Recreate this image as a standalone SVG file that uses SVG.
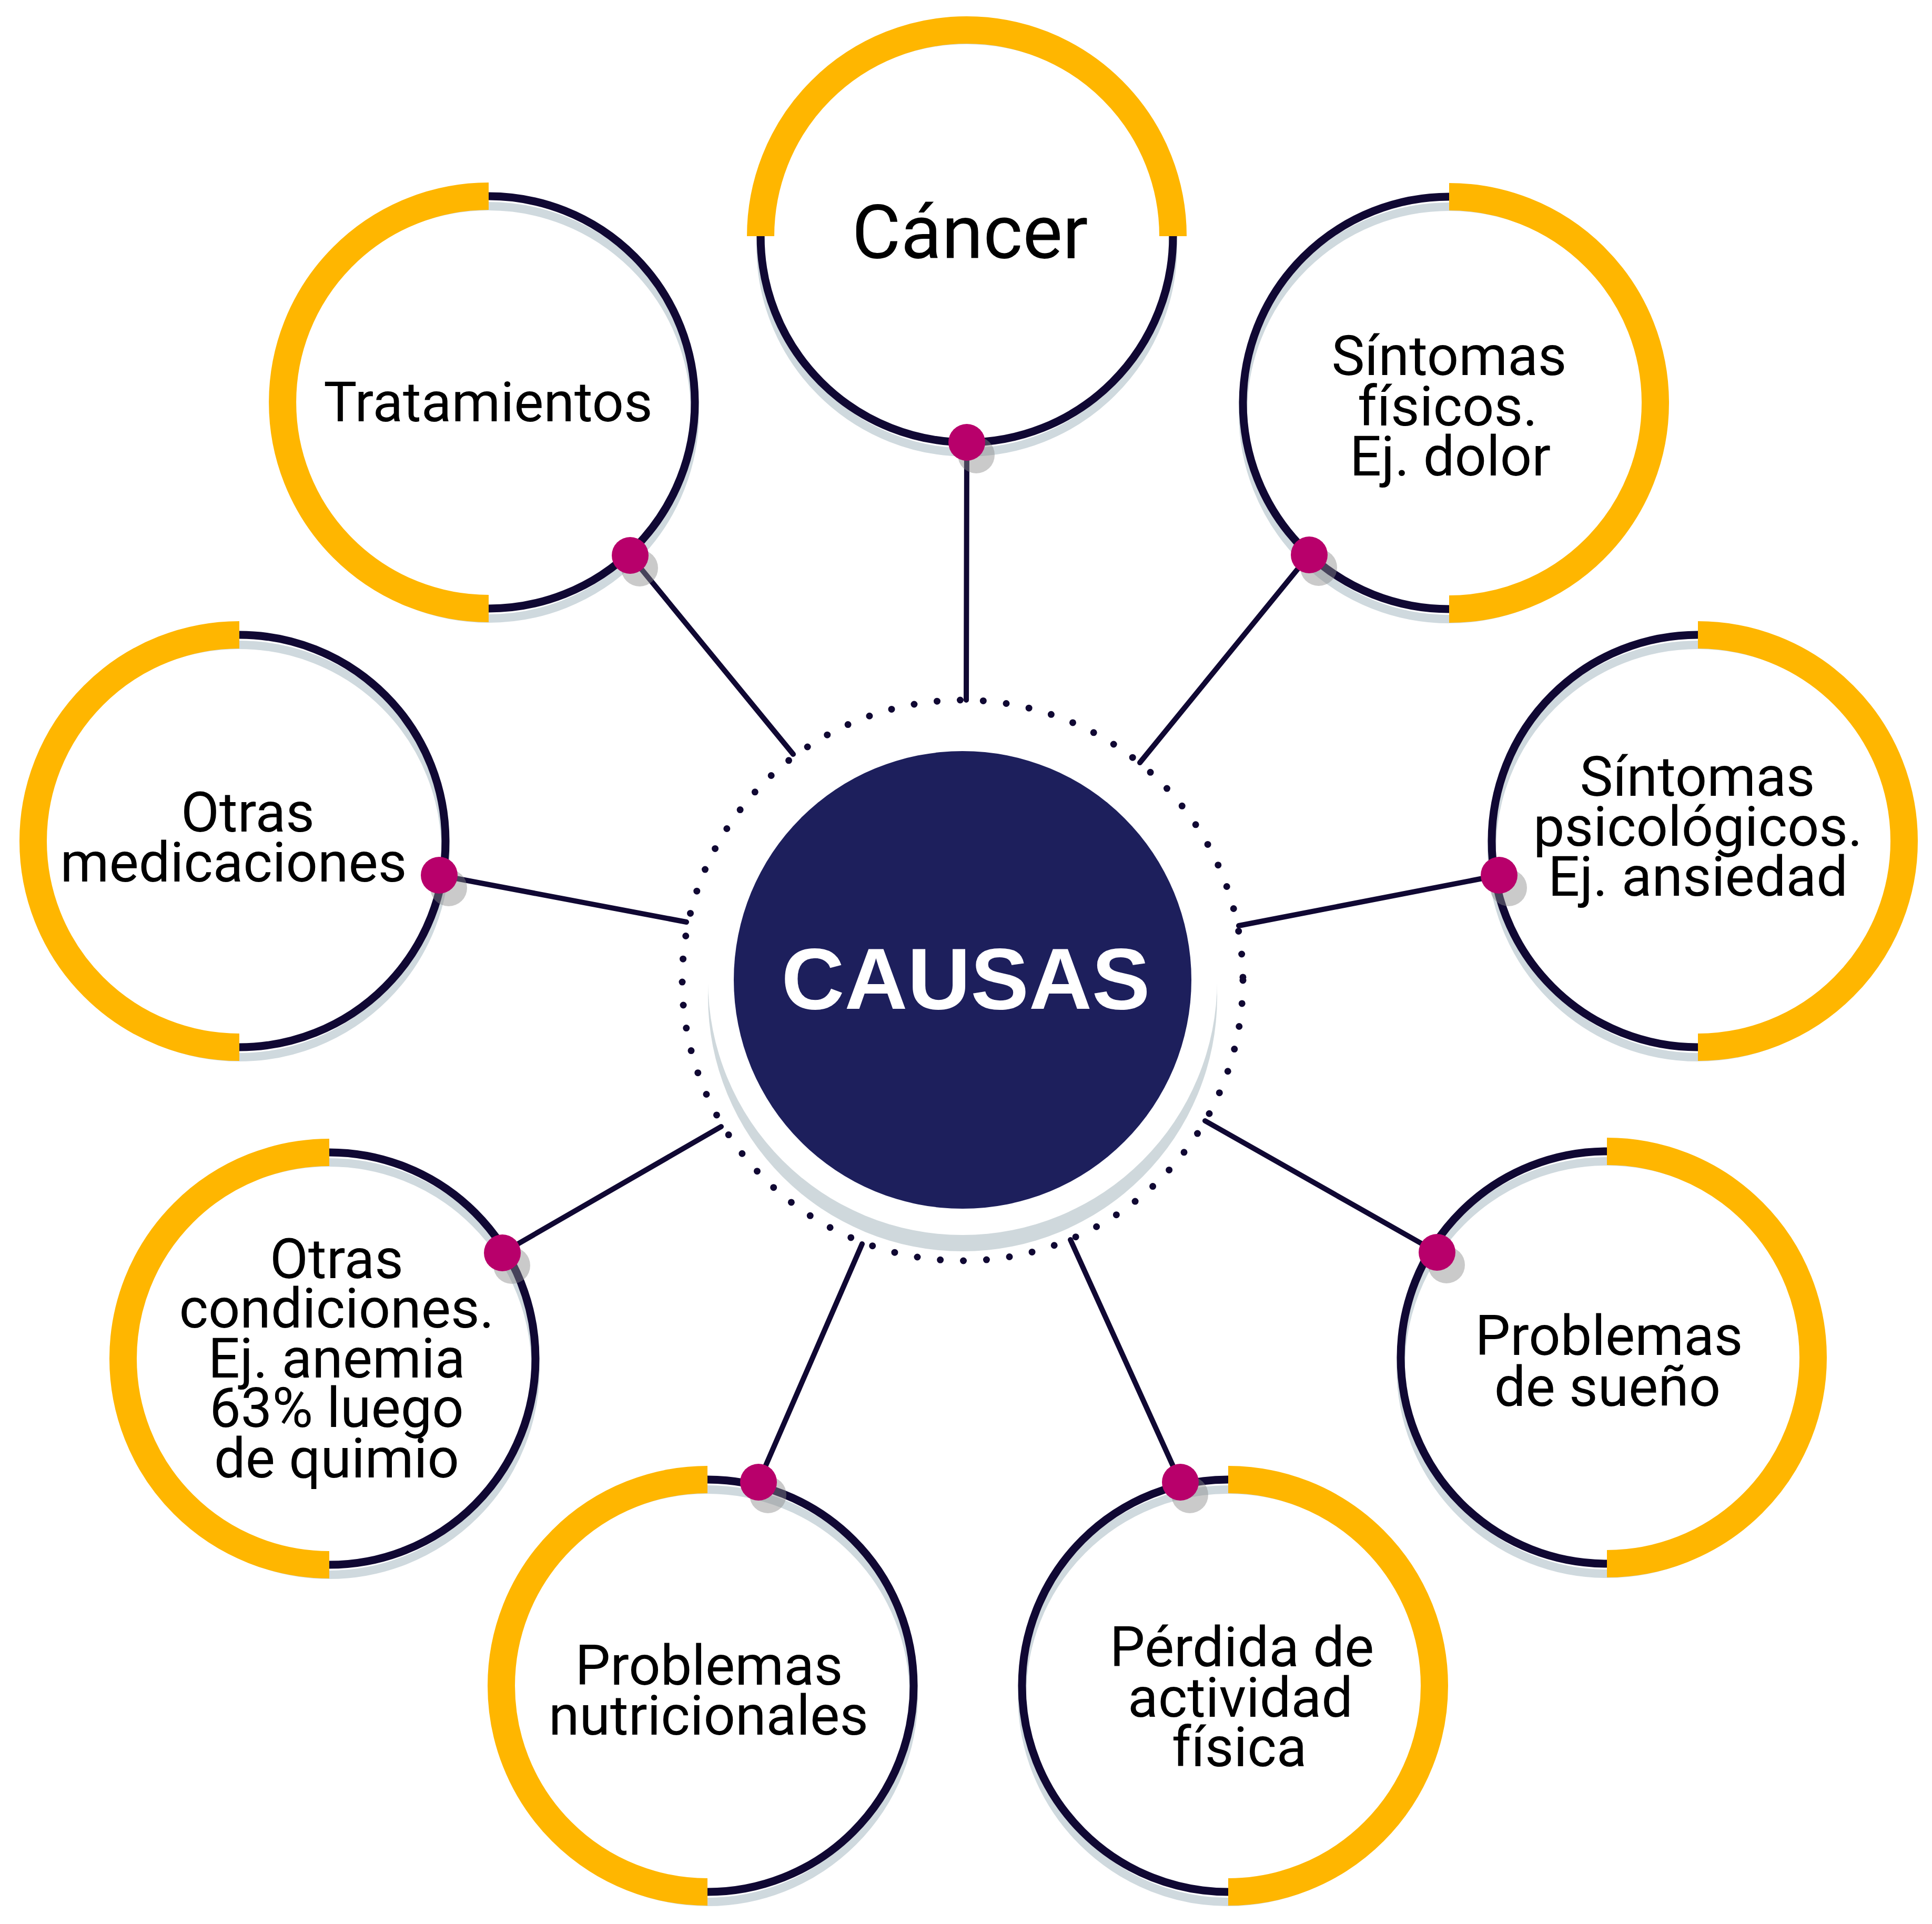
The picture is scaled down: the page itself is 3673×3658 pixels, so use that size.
<svg xmlns="http://www.w3.org/2000/svg" width="3673" height="3658" viewBox="0 0 3673 3658">
<style>
.ring{fill:none;stroke:#100833;stroke-width:15}
.shd{fill:none;stroke:#cfd9de;stroke-width:16}
.arc{fill:none;stroke:#FFB600;stroke-width:52}
.dot{fill:#B8006B}
.dsh{fill:#8a8a8a;fill-opacity:0.45}
.lbl{font-family:Roboto,"Liberation Sans",sans-serif;font-size:106px;fill:#000;text-anchor:middle}
#connectors line{stroke:#100833;stroke-width:10;stroke-linecap:round}
</style>
<rect width="3673" height="3658" fill="#fff"/>
<g id="center">
<circle cx="1830" cy="1895" r="484" fill="#cfd8dc"/>
<circle cx="1830" cy="1864" r="484" fill="#fff"/>
<circle cx="1830" cy="1864" r="533" fill="none" stroke="#100833" stroke-width="13" stroke-linecap="round" stroke-dasharray="0 43.98"/>
<circle cx="1830" cy="1863" r="435" fill="#1d1f5c"/>
<text x="1836" y="1918" font-family="'Liberation Sans',Arial,sans-serif" font-weight="bold" font-size="166" fill="#fff" text-anchor="middle">CAUSAS</text>
</g>
<g id="connectors">
<line x1="1838" y1="841" x2="1837" y2="1331"/>
<line x1="1198" y1="1056" x2="1508" y2="1434"/>
<line x1="2489" y1="1055" x2="2167" y2="1450"/>
<line x1="2850" y1="1664" x2="2355" y2="1760"/>
<line x1="835" y1="1664" x2="1305" y2="1753"/>
<line x1="955" y1="2382" x2="1371" y2="2142"/>
<line x1="2732" y1="2381" x2="2291" y2="2131"/>
<line x1="1442" y1="2818" x2="1639" y2="2365"/>
<line x1="2244" y1="2818" x2="2035" y2="2357"/>
</g>
<g id="node-cancer">
<circle class="shd" cx="1838" cy="468" r="392"/>
<circle class="ring" cx="1838" cy="449" r="392"/>
<path class="arc" d="M1446 449A392 392 0 0 1 2230 449"/>
<text class="lbl" x="1844" y="491" style="font-size:143px">Cáncer</text>
<circle class="dsh" cx="1856" cy="865" r="35"/>
<circle class="dot" cx="1838" cy="841" r="35"/>
</g>
<g id="node-tratamientos">
<circle class="shd" cx="929" cy="784" r="392"/>
<circle class="ring" cx="929" cy="765" r="392"/>
<path class="arc" d="M929 1157A392 392 0 0 1 929 373"/>
<text class="lbl" x="928" y="801">Tratamientos</text>
<circle class="dsh" cx="1216" cy="1080" r="35"/>
<circle class="dot" cx="1198" cy="1056" r="35"/>
</g>
<g id="node-sintomas-fisicos">
<circle class="shd" cx="2755" cy="785" r="392"/>
<circle class="ring" cx="2755" cy="766" r="392"/>
<path class="arc" d="M2755 374A392 392 0 0 1 2755 1158"/>
<text class="lbl" x="2755" y="713">Síntomas</text>
<text class="lbl" x="2752" y="809">físicos.</text>
<text class="lbl" x="2757" y="904">Ej. dolor</text>
<circle class="dsh" cx="2507" cy="1079" r="35"/>
<circle class="dot" cx="2489" cy="1055" r="35"/>
</g>
<g id="node-sintomas-psicologicos">
<circle class="shd" cx="3228" cy="1618" r="392"/>
<circle class="ring" cx="3228" cy="1599" r="392"/>
<path class="arc" d="M3228 1207A392 392 0 0 1 3228 1991"/>
<text class="lbl" x="3227" y="1513">Síntomas</text>
<text class="lbl" x="3228" y="1608">psicológicos.</text>
<text class="lbl" x="3228" y="1703">Ej. ansiedad</text>
<circle class="dsh" cx="2868" cy="1688" r="35"/>
<circle class="dot" cx="2850" cy="1664" r="35"/>
</g>
<g id="node-otras-medicaciones">
<circle class="shd" cx="455" cy="1618" r="392"/>
<circle class="ring" cx="455" cy="1599" r="392"/>
<path class="arc" d="M455 1991A392 392 0 0 1 455 1207"/>
<text class="lbl" x="471" y="1581">Otras</text>
<text class="lbl" x="444" y="1676">medicaciones</text>
<circle class="dsh" cx="853" cy="1688" r="35"/>
<circle class="dot" cx="835" cy="1664" r="35"/>
</g>
<g id="node-otras-condiciones">
<circle class="shd" cx="626" cy="2602" r="392"/>
<circle class="ring" cx="626" cy="2583" r="392"/>
<path class="arc" d="M626 2975A392 392 0 0 1 626 2191"/>
<text class="lbl" x="640" y="2430">Otras</text>
<text class="lbl" x="640" y="2524">condiciones.</text>
<text class="lbl" x="640" y="2619">Ej. anemia</text>
<text class="lbl" x="640" y="2713">63% luego</text>
<text class="lbl" x="640" y="2809">de quimio</text>
<circle class="dsh" cx="973" cy="2406" r="35"/>
<circle class="dot" cx="955" cy="2382" r="35"/>
</g>
<g id="node-problemas-sueno">
<circle class="shd" cx="3055" cy="2600" r="392"/>
<circle class="ring" cx="3055" cy="2581" r="392"/>
<path class="arc" d="M3055 2189A392 392 0 0 1 3055 2973"/>
<text class="lbl" x="3059" y="2576">Problemas</text>
<text class="lbl" x="3056" y="2673">de sueño</text>
<circle class="dsh" cx="2750" cy="2405" r="35"/>
<circle class="dot" cx="2732" cy="2381" r="35"/>
</g>
<g id="node-problemas-nutricionales">
<circle class="shd" cx="1345" cy="3224" r="392"/>
<circle class="ring" cx="1345" cy="3205" r="392"/>
<path class="arc" d="M1345 3597A392 392 0 0 1 1345 2813"/>
<text class="lbl" x="1348" y="3203">Problemas</text>
<text class="lbl" x="1347" y="3298">nutricionales</text>
<circle class="dsh" cx="1460" cy="2842" r="35"/>
<circle class="dot" cx="1442" cy="2818" r="35"/>
</g>
<g id="node-perdida-actividad">
<circle class="shd" cx="2335" cy="3224" r="392"/>
<circle class="ring" cx="2335" cy="3205" r="392"/>
<path class="arc" d="M2335 2813A392 392 0 0 1 2335 3597"/>
<text class="lbl" x="2361" y="3168">Pérdida de</text>
<text class="lbl" x="2358" y="3264">actividad</text>
<text class="lbl" x="2356" y="3358">física</text>
<circle class="dsh" cx="2262" cy="2842" r="35"/>
<circle class="dot" cx="2244" cy="2818" r="35"/>
</g>
</svg>
